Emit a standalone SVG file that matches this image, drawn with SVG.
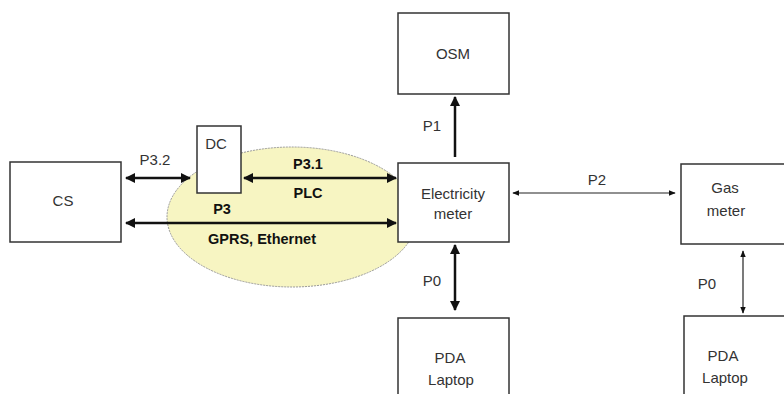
<svg xmlns="http://www.w3.org/2000/svg" width="784" height="394" viewBox="0 0 784 394">
<style>
.box{fill:#fff;stroke:#333;stroke-width:1.5}
.t{font-family:"Liberation Sans",Arial,sans-serif;font-size:15px;fill:#333;text-anchor:middle}
.b{font-family:"Liberation Sans",Arial,sans-serif;font-size:14.5px;font-weight:bold;fill:#111;text-anchor:middle}
.thick{stroke:#111;stroke-width:2.5;fill:none}
.thin{stroke:#222;stroke-width:1.2;fill:none}
</style>
<defs>
<marker id="ah" viewBox="0 0 10 10" refX="9" refY="5" markerWidth="4" markerHeight="4" orient="auto-start-reverse"><path d="M0,0L10,5L0,10z" fill="#111"/></marker>
<marker id="ahs" viewBox="0 0 10 10" refX="9" refY="5" markerWidth="6" markerHeight="6" orient="auto-start-reverse"><path d="M0,1L10,5L0,9z" fill="#111"/></marker>
</defs>
<rect width="784" height="394" fill="#fff"/>
<g id="cloud"><ellipse cx="292" cy="217" rx="125" ry="70" fill="#f7f5c2" stroke="#999" stroke-width="1" stroke-dasharray="2,1"/></g>
<g id="cs"><rect class="box" x="10" y="162" width="111" height="80"/><text class="t" x="63" y="206">CS</text></g>
<g id="dc"><rect class="box" x="197" y="126" width="44" height="67"/><text class="t" x="216" y="149">DC</text></g>
<g id="osm"><rect class="box" x="398" y="13" width="111" height="81"/><text class="t" x="453" y="59">OSM</text></g>
<g id="em"><rect class="box" x="398" y="163" width="111" height="79"/><text class="t" x="453" y="199">Electricity</text><text class="t" x="453" y="219">meter</text></g>
<g id="pda1"><rect class="box" x="398" y="318" width="111" height="90"/><text class="t" x="450" y="363">PDA</text><text class="t" x="451" y="385">Laptop</text></g>
<g id="gm"><rect class="box" x="681" y="164" width="120" height="80"/><text class="t" x="725" y="193">Gas</text><text class="t" x="726" y="216">meter</text></g>
<g id="pda2"><rect class="box" x="684" y="316" width="120" height="90"/><text class="t" x="723" y="361">PDA</text><text class="t" x="725" y="383">Laptop</text></g>
<g id="connectors">
<line class="thick" x1="126" y1="178" x2="190" y2="178" marker-start="url(#ah)" marker-end="url(#ah)"/>
<line class="thick" x1="244" y1="178" x2="396" y2="178" marker-start="url(#ah)" marker-end="url(#ah)"/>
<line class="thick" x1="126" y1="223" x2="396" y2="223" marker-start="url(#ah)" marker-end="url(#ah)"/>
<line class="thick" x1="455" y1="157" x2="455" y2="97" stroke-width="2" marker-end="url(#ah)"/>
<line class="thick" x1="455" y1="245" x2="455" y2="310" stroke-width="2" marker-start="url(#ah)" marker-end="url(#ah)"/>
<line class="thin" x1="513" y1="193" x2="675" y2="193" marker-start="url(#ahs)" marker-end="url(#ahs)"/>
<line class="thin" x1="743" y1="251" x2="743" y2="313" marker-start="url(#ahs)" marker-end="url(#ahs)"/>
</g>
<g id="labels">
<text class="t" x="155" y="165">P3.2</text>
<text class="b" x="308" y="169">P3.1</text>
<text class="b" x="308" y="198">PLC</text>
<text class="b" x="222" y="214">P3</text>
<text class="b" x="262" y="244">GPRS, Ethernet</text>
<text class="t" x="432" y="131">P1</text>
<text class="t" x="597" y="185">P2</text>
<text class="t" x="432" y="286">P0</text>
<text class="t" x="707" y="289">P0</text>
</g>
</svg>
